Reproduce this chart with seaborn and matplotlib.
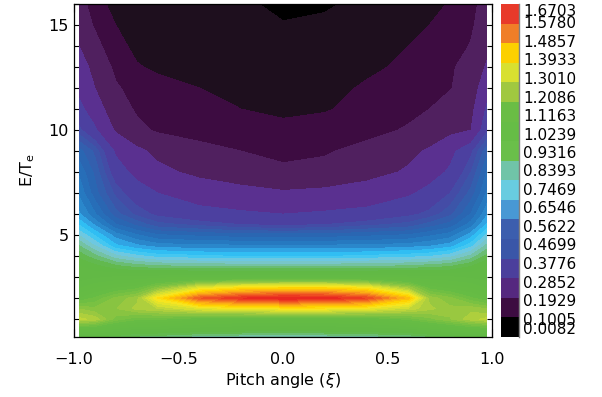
import numpy as np
import matplotlib
matplotlib.use("Agg")
import matplotlib.pyplot as plt
import seaborn as sns
from matplotlib.colors import LinearSegmentedColormap, ListedColormap, BoundaryNorm
from matplotlib.cm import ScalarMappable
from matplotlib.ticker import MultipleLocator
import matplotlib.transforms as mtransforms

# ---------------- data ----------------
xi = [-0.976, -0.9, -0.8, -0.7, -0.6, -0.4, -0.2, 0.0, 0.2, 0.4, 0.6, 0.7, 0.8, 0.9, 0.976]
energy = [0.15, 0.5, 1.0, 1.5, 2.0, 2.5, 3.0, 3.5, 4.0, 4.5, 5.0, 5.5, 6.0,
          7.0, 8.0, 9.0, 10.0, 11.0, 12.0, 13.0, 14.0, 15.0, 16.0]
f_E015 = [0.95, 0.94, 0.92, 0.90, 0.89, 0.86, 0.85, 0.84, 0.85, 0.86, 0.88, 0.90, 0.92, 0.94, 0.95]
f_E05 = [1.06, 1.05, 1.01, 0.98, 0.98, 0.97, 0.96, 0.95, 0.96, 0.97, 0.98, 1.00, 1.03, 1.06, 1.07]
f_E1 = [1.27, 1.25, 1.16, 1.12, 1.12, 1.08, 1.06, 1.06, 1.06, 1.07, 1.12, 1.16, 1.20, 1.25, 1.27]
f_E15 = [1.20, 1.18, 1.20, 1.24, 1.26, 1.32, 1.35, 1.36, 1.36, 1.34, 1.28, 1.24, 1.21, 1.22, 1.20]
f_E2 = [1.08, 1.12, 1.18, 1.22, 1.38, 1.58, 1.64, 1.67, 1.66, 1.61, 1.45, 1.22, 1.18, 1.12, 1.08]
f_E25 = [1.02, 1.05, 1.08, 1.10, 1.18, 1.32, 1.38, 1.40, 1.40, 1.36, 1.22, 1.10, 1.07, 1.05, 1.02]
f_E3 = [0.98, 0.99, 1.00, 1.00, 1.01, 1.02, 1.02, 1.02, 1.02, 1.02, 1.01, 1.00, 1.00, 0.99, 0.98]
f_E35 = [0.97, 0.95, 0.92, 0.90, 0.89, 0.88, 0.88, 0.88, 0.88, 0.88, 0.89, 0.90, 0.91, 0.94, 0.97]
f_E4 = [0.93, 0.89, 0.83, 0.80, 0.78, 0.77, 0.76, 0.76, 0.76, 0.77, 0.78, 0.79, 0.81, 0.86, 0.92]
f_E45 = [0.88, 0.82, 0.74, 0.71, 0.69, 0.68, 0.68, 0.68, 0.68, 0.68, 0.69, 0.70, 0.72, 0.78, 0.86]
f_E5 = [0.82, 0.76, 0.69, 0.65, 0.62, 0.61, 0.60, 0.60, 0.60, 0.61, 0.62, 0.64, 0.66, 0.72, 0.80]
f_E55 = [0.76, 0.70, 0.62, 0.58, 0.54, 0.52, 0.50, 0.49, 0.50, 0.52, 0.54, 0.57, 0.60, 0.66, 0.74]
f_E6 = [0.71, 0.65, 0.57, 0.52, 0.49, 0.46, 0.45, 0.44, 0.45, 0.46, 0.49, 0.51, 0.55, 0.62, 0.70]
f_E7 = [0.67, 0.60, 0.52, 0.47, 0.44, 0.41, 0.39, 0.37, 0.38, 0.40, 0.43, 0.46, 0.50, 0.57, 0.65]
f_E8 = [0.64, 0.58, 0.47, 0.42, 0.38, 0.34, 0.31, 0.29, 0.30, 0.33, 0.37, 0.41, 0.45, 0.53, 0.62]
f_E9 = [0.60, 0.55, 0.43, 0.38, 0.34, 0.30, 0.27, 0.245, 0.26, 0.30, 0.34, 0.37, 0.42, 0.49, 0.58]
f_E10 = [0.51, 0.45, 0.35, 0.29, 0.26, 0.235, 0.22, 0.205, 0.215, 0.24, 0.28, 0.31, 0.34, 0.36, 0.49]
f_E11 = [0.46, 0.40, 0.31, 0.26, 0.23, 0.21, 0.19, 0.178, 0.185, 0.21, 0.245, 0.27, 0.31, 0.34, 0.45]
f_E12 = [0.42, 0.36, 0.28, 0.24, 0.21, 0.19, 0.17, 0.155, 0.165, 0.20, 0.225, 0.24, 0.265, 0.32, 0.41]
f_E13 = [0.39, 0.34, 0.25, 0.195, 0.18, 0.16, 0.145, 0.13, 0.14, 0.175, 0.205, 0.23, 0.26, 0.30, 0.37]
f_E14 = [0.36, 0.30, 0.21, 0.175, 0.155, 0.14, 0.12, 0.105, 0.115, 0.15, 0.19, 0.21, 0.235, 0.275, 0.34]
f_E15s = [0.33, 0.26, 0.19, 0.16, 0.14, 0.12, 0.10, 0.075, 0.085, 0.12, 0.16, 0.19, 0.22, 0.26, 0.31]
f_E16 = [0.31, 0.225, 0.16, 0.14, 0.12, 0.10, 0.085, 0.05, 0.06, 0.09, 0.12, 0.15, 0.20, 0.25, 0.30]

cbar_labels = [0.0082, 0.1005, 0.1929, 0.2852, 0.3776, 0.4699, 0.5622, 0.6546, 0.7469,
               0.8393, 0.9316, 1.0239, 1.1163, 1.2086, 1.3010, 1.3933, 1.4857, 1.5780, 1.6703]
cbar_colors = ["#000000", "#3d0c41", "#55287f", "#4b3f9c", "#3a56a8", "#3c5eae", "#4898d4",
               "#68cce0", "#70c4a8", "#6abf4a", "#66bd46", "#6abd45", "#a0c840", "#d8e030",
               "#fcd000", "#f07e28", "#e83a2a"]

Z = np.array([f_E015, f_E05, f_E1, f_E15, f_E2, f_E25, f_E3, f_E35, f_E4, f_E45, f_E5, f_E55,
              f_E6, f_E7, f_E8, f_E9, f_E10, f_E11, f_E12, f_E13, f_E14, f_E15s, f_E16])

# ---------------- colours / levels ----------------
vmin, vmax = cbar_labels[0], cbar_labels[-1]
anchors = [(0.50, "#4848a4"), (0.55, "#3a58aa"), (0.60, "#2a66b2"), (0.65, "#2474bc"),
           (0.69, "#2a88cc"), (0.72, "#30a4e4"), (0.75, "#30c0f4"), (0.78, "#48c8f0"),
           (0.81, "#70c8e0"), (0.84, "#78c6c4"), (0.87, "#74c2a0"), (0.90, "#68bc68"),
           (0.93, "#60b845"), (1.10, "#66bc44"), (1.17, "#7cc242"), (1.22, "#9cc840"),
           (1.27, "#bcd43a"), (1.32, "#dce22e"), (1.37, "#fae61e"), (1.42, "#ffd200"),
           (1.48, "#fcb014"), (1.54, "#f47c20"), (1.60, "#ee4a22"), (1.6703, "#e82020")]
lo, hi = anchors[0][0], anchors[-1][0]
cmap_hi = LinearSegmentedColormap.from_list(
    "hi", [((v - lo) / (hi - lo), c) for v, c in anchors])

low_levels = [vmin, 0.07, 0.19, 0.27, 0.36, 0.44, 0.50]
low_colors = ["#000000", "#1e0f1e", "#3d0c41", "#50205f", "#5a3090", "#4c40a0"]
hi_levels = list(np.linspace(0.50, vmax, 41))
mids = [(a + b) / 2 for a, b in zip(hi_levels[:-1], hi_levels[1:])]
hi_colors = [cmap_hi((m - lo) / (hi - lo)) for m in mids]
levels = low_levels + hi_levels[1:]
colors = low_colors + hi_colors

# ---------------- figure ----------------
sns.set_style("ticks")
plt.rcParams["font.family"] = ["DejaVu Sans"]
plt.rcParams["mathtext.fontset"] = "dejavusans"
for k in ["text.color", "axes.labelcolor", "xtick.color", "ytick.color", "axes.edgecolor"]:
    plt.rcParams[k] = "black"
plt.rcParams["axes.unicode_minus"] = True

W, H = 602, 397
fig = plt.figure(figsize=(W / 100, H / 100), dpi=100)
ax = fig.add_axes([74 / W, 1 - 337 / H, (492 - 74) / W, (337 - 4) / H])
cax = fig.add_axes([501 / W, 1 - 337 / H, 18 / W, (337 - 4) / H])

ax.contourf(xi, energy, Z, levels=levels, colors=colors)
ax.set_xlim(-1, 1)
ax.set_ylim(0.15, 16)

ax.xaxis.set_major_locator(MultipleLocator(0.5))
ax.xaxis.set_minor_locator(MultipleLocator(0.1))
ax.yaxis.set_major_locator(MultipleLocator(5))
ax.yaxis.set_minor_locator(MultipleLocator(1))
ax.tick_params(which="both", direction="in", top=True, right=True, color="black",
               width=0.8)
ax.tick_params(which="major", length=6)
ax.tick_params(which="minor", length=3.5)
ax.tick_params(axis="x", which="major", labelsize=11.5, pad=11)
ax.tick_params(axis="y", which="major", labelsize=11.5, pad=4)
for s in ax.spines.values():
    s.set_linewidth(0.9)
    s.set_color("black")

ax.set_xlabel(r"Pitch angle ($\xi$)", fontsize=11.5, labelpad=3)
ax.set_ylabel(r"E/T$_{\rm e}$", fontsize=11.5, labelpad=8)

# colorbar
norm = BoundaryNorm(np.linspace(vmin, vmax, len(cbar_colors) + 1), len(cbar_colors))
sm = ScalarMappable(norm=norm, cmap=ListedColormap(cbar_colors))
cb = fig.colorbar(sm, cax=cax)
cb.outline.set_visible(False)
cax.spines["right"].set_visible(True)
cax.spines["right"].set_color("#808080")
cax.spines["right"].set_linewidth(1.0)
cax.set_yticks([])
cax.minorticks_off()
trans = mtransforms.blended_transform_factory(cax.transAxes, cax.transData)
for i, v in enumerate(cbar_labels):
    va = "center_baseline"
    if i == 0:
        va = "bottom"
    elif i == len(cbar_labels) - 1:
        va = "top"
    cax.text(1.22, v, f"{v:.4f}", transform=trans, va=va, ha="left", fontsize=11)

fig.savefig("out.png", dpi=100)
